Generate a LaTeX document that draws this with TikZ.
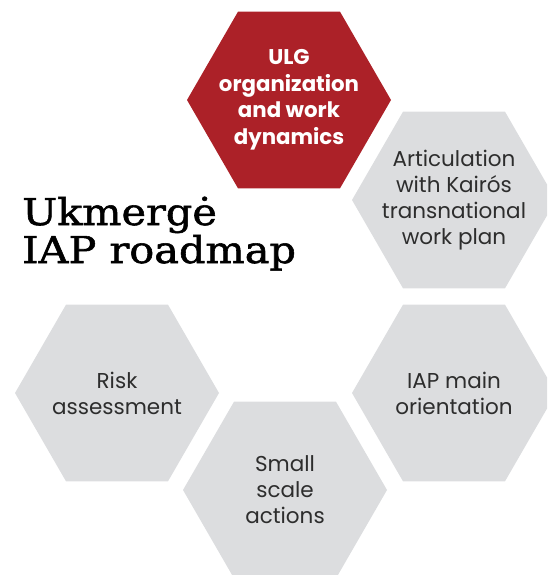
\documentclass[tikz,border=0pt]{standalone}
\usepackage{fontspec}
\usepackage{tikz}
\usetikzlibrary{shapes}
\usepackage{xcolor}
\newfontfamily\poppins{Poppins}
\newfontfamily\slab[FakeStretch=1.12, FakeBold=1.5]{DejaVu Serif}
\definecolor{ulgred}{RGB}{172,33,40}
\definecolor{hexgray}{RGB}{220,221,223}
\definecolor{textgray}{RGB}{45,45,45}

\begin{document}
\begin{tikzpicture}[x=1pt, y=-1pt, hex/.style={regular polygon, regular polygon sides=6, minimum size=204pt, inner sep=0pt, fill=hexgray}, main hex/.style={hex, fill=ulgred}, label/.style={text=textgray, align=center, font=\poppins\fontsize{21.5}{26}\selectfont}, main label/.style={text=white, align=center, font=\poppins\bfseries\fontsize{21.3}{26.5}\selectfont}, title/.style={anchor=base west, inner sep=0pt, font=\slab\fontsize{37}{38}\selectfont}]
\useasboundingbox (0,0) rectangle (547,575);
\clip (0,0) rectangle (547,575);
\node[main hex] (1) at (289,100) {};
\node[hex] (2) at (454,200) {};
\node[hex] (3) at (454,393) {};
\node[hex] (4) at (285,490) {};
\node[hex] (5) at (117,393) {};
\node[main label] (1t) at (1) {ULG\\organization\\and work\\dynamics};
\node[label] (2t) at (2) {Articulation\\with Kairós\\transnational\\work plan};
\node[label] (3t) at (3) {IAP main\\orientation};
\node[label] (4t) at (4) {Small\\scale\\actions};
\node[label] (5t) at (5) {Risk\\assessment};
\node[title] (t1) at (22,225) {Ukmergė};
\node[title] (t2) at (22,263) {IAP roadmap};
\end{tikzpicture}
\end{document}
